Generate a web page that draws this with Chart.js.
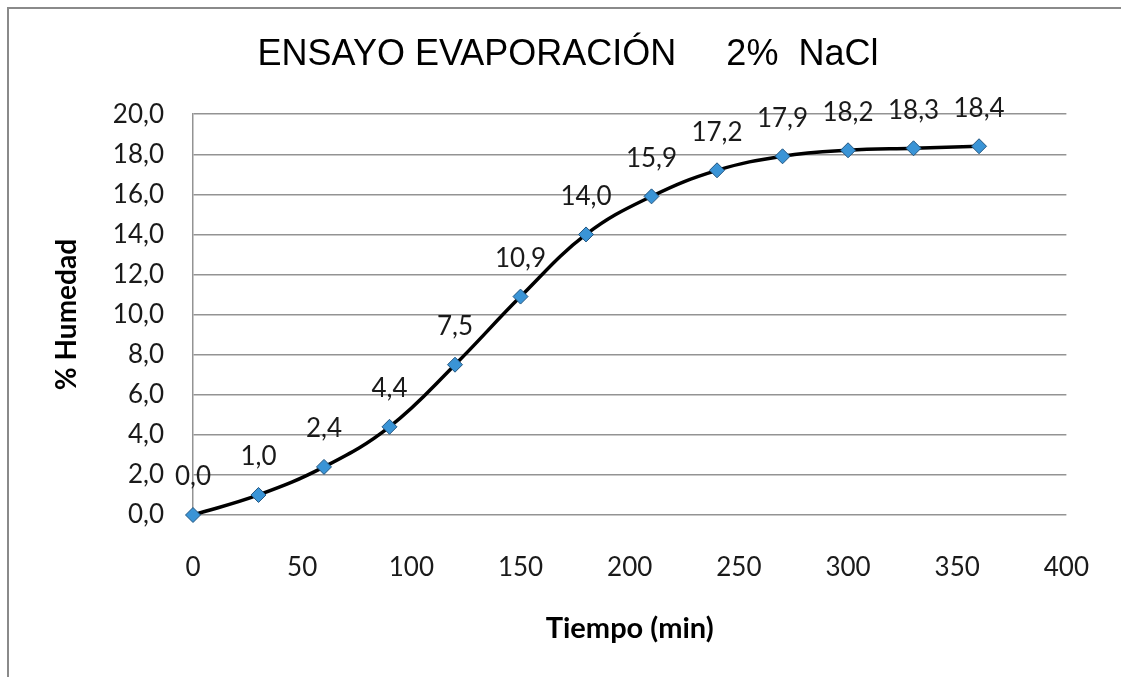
<!DOCTYPE html>
<html>
<head>
<meta charset="utf-8">
<script src="https://cdn.jsdelivr.net/npm/chart.js@4/dist/chart.umd.min.js"></script>
<style>
  html, body { margin: 0; padding: 0; background: #fff; overflow: hidden; width: 1121px; height: 677px; }
  #frame {
    position: absolute; left: 7px; top: 7px; right: -300px; bottom: -300px;
    border-left: 2px solid #8a8a8a; border-top: 2px solid #8a8a8a;
    background: #fff;
  }
  #wrap { position: absolute; left: 1px; top: 1px; width: 1116px; height: 667px; }
</style>
</head>
<body>
<div id="frame"><div id="wrap"><canvas id="c"></canvas></div></div>
<script>
// Moisture loss during evaporation, 2% NaCl sample
const tiempoMin = [0, 30, 60, 90, 120, 150, 180, 210, 240, 270, 300, 330, 360];
const humedad   = [0.0, 1.0, 2.4, 4.4, 7.5, 10.9, 14.0, 15.9, 17.2, 17.9, 18.2, 18.3, 18.4];
const yTicks    = [0, 2, 4, 6, 8, 10, 12, 14, 16, 18, 20];
const xTicks    = [0, 50, 100, 150, 200, 250, 300, 350, 400];

const tituloGrafico = 'ENSAYO EVAPORACIÓN     2%  NaCl';
const tituloX = 'Tiempo (min)';
const tituloY = '% Humedad';

const coma = v => Number(v).toFixed(1).replace('.', ',');
const BODY_FONT = 'Lato, "Open Sans", sans-serif';

// Writes each point's value above its marker
const etiquetas = {
  id: 'etiquetas',
  afterDatasetsDraw(chart) {
    const ctx = chart.ctx;
    const meta = chart.getDatasetMeta(0);
    ctx.save();
    ctx.font = '26px ' + BODY_FONT;
    ctx.fillStyle = '#1a1a1a';
    ctx.textAlign = 'center';
    ctx.textBaseline = 'middle';
    meta.data.forEach((pt, i) => {
      ctx.fillText(coma(humedad[i]), pt.x, pt.y - 38);
    });
    ctx.restore();
  }
};

new Chart(document.getElementById('c'), {
  type: 'line',
  data: {
    datasets: [{
      data: tiempoMin.map((t, i) => ({ x: t, y: humedad[i] })),
      borderColor: '#000',
      borderWidth: 3.5,
      tension: 0.4,
      cubicInterpolationMode: 'default',
      pointStyle: 'rectRot',
      pointRadius: 7.5,
      pointBackgroundColor: '#3a94d6',
      pointBorderColor: '#23557f',
      pointBorderWidth: 1,
      clip: false,
      fill: false
    }]
  },
  options: {
    responsive: true,
    maintainAspectRatio: false,
    animation: false,
    events: [],
    layout: { padding: 0 },
    plugins: {
      legend: { display: false },
      tooltip: { enabled: false },
      title: {
        display: true,
        text: tituloGrafico,
        color: '#000',
        font: { family: '"Liberation Sans", Arial, sans-serif', size: 36, weight: 'normal', lineHeight: 1.2 },
        padding: { top: 23, bottom: 38 }
      }
    },
    scales: {
      x: {
        type: 'linear',
        min: 0, max: 400,
        afterBuildTicks: s => { s.ticks = xTicks.map(v => ({ value: v })); },
        afterFit: s => { s.height = 162; },
        grid: { display: false, drawTicks: false },
        border: { display: false },
        ticks: { color: '#1a1a1a', font: { family: BODY_FONT, size: 26 }, padding: 37 },
        title: {
          display: true, text: tituloX, color: '#000',
          font: { family: BODY_FONT, size: 29, weight: 'bold', lineHeight: 1.2 },
          padding: { top: 0, bottom: 31 }
        }
      },
      y: {
        min: 0, max: 20,
        afterBuildTicks: s => { s.ticks = yTicks.map(v => ({ value: v })); },
        afterFit: s => { s.width = 183; },
        grid: { color: '#939393', lineWidth: 1.5, drawTicks: false },
        border: { display: true, color: '#939393', width: 1.5 },
        ticks: { color: '#1a1a1a', font: { family: BODY_FONT, size: 26 }, padding: 29, callback: v => coma(v) },
        title: {
          display: true, text: tituloY, color: '#000',
          font: { family: BODY_FONT, size: 28, weight: 'bold', lineHeight: 1.2 },
          padding: { top: 40, bottom: 0 }
        }
      },
      // empty right-hand gutter between the plot and the frame edge
      margen: {
        position: 'right',
        min: 0, max: 1,
        afterFit: s => { s.width = 51; },
        grid: { display: false, drawTicks: false },
        border: { display: false },
        ticks: { display: false }
      }
    }
  },
  plugins: [etiquetas]
});
</script>
</body>
</html>
